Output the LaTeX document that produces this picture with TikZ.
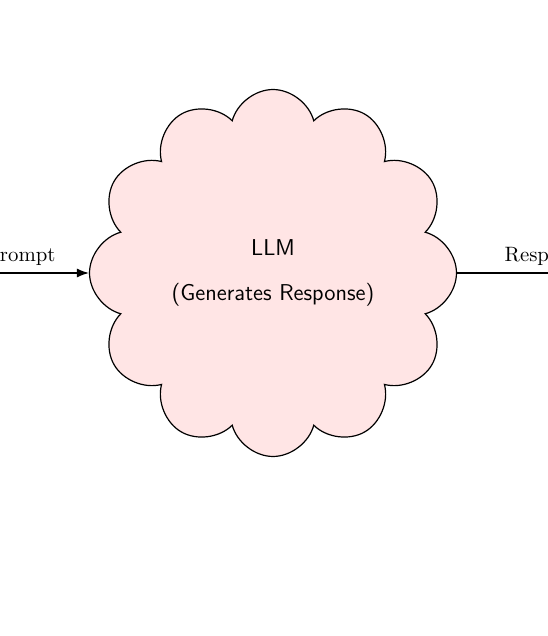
\documentclass[tikz,border=0pt]{standalone}
\usetikzlibrary{shapes.symbols,arrows.meta}
\begin{document}
\begin{tikzpicture}[
  llmcloud/.style={cloud, cloud puffs=12, aspect=1, draw=black, line width=0.6pt,
    fill=red!10, minimum width=183.5pt, minimum height=183.5pt, inner sep=0pt,
    align=center, font=\sffamily\fontsize{11.45pt}{14pt}\selectfont},
  flow/.style={-{Latex[length=6pt,width=4.5pt]}, line width=0.6pt},
  lbl/.style={above, midway, font=\rmfamily\fontsize{10.4pt}{12.5pt}\selectfont}
]
\useasboundingbox (-136.5pt,-181.5pt) rectangle (137pt,136.5pt);
\node[llmcloud] (llm) at (0,0) {LLM\\[8.5pt](Generates Response)};
\coordinate (src) at (-160.3pt,0);
\coordinate (dst) at (181.8pt,0);
\draw[flow] (src) -- node[lbl] {Prompt} (llm.west);
\draw[flow] (llm.east) -- node[lbl] {Response} (dst);
\end{tikzpicture}
\end{document}
